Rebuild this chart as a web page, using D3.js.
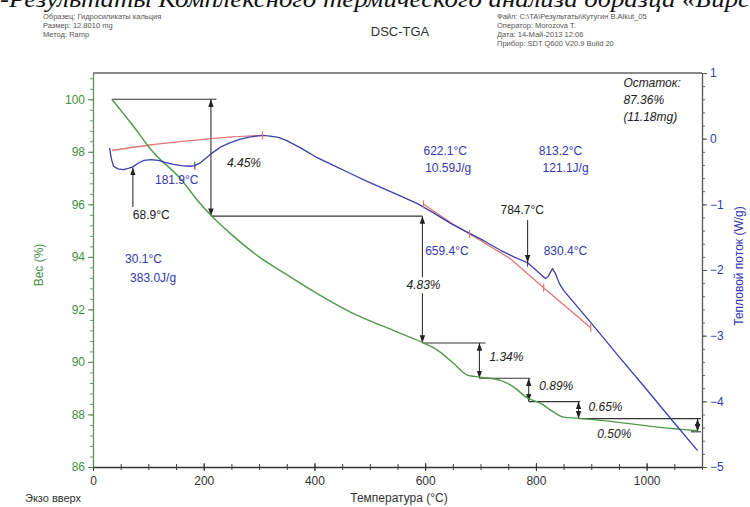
<!DOCTYPE html>
<html><head><meta charset="utf-8">
<script src="https://cdn.jsdelivr.net/npm/d3@7"></script>
<style>
html,body{margin:0;padding:0;background:#fff;}
svg{display:block;font-family:"Liberation Sans",Arial,sans-serif;}
</style></head>
<body><svg id="c" width="750" height="507"></svg>
<script>
// ---------- DATA ----------
const tgaTemp   = [34, 72, 108, 157, 193, 217, 253, 300, 344, 405, 465, 525, 560, 597, 622, 651, 676, 700, 736, 760, 785, 808, 832, 850, 875, 950, 1020, 1092];
const tgaWeight = [100, 99.0, 98.0, 97.0, 96.04, 95.5, 94.8, 94.0, 93.4, 92.6, 91.9, 91.35, 91.05, 90.72, 90.45, 89.95, 89.5, 89.42, 89.3, 89.04, 88.62, 88.43, 88.09, 87.9, 87.86, 87.7, 87.52, 87.38];

const dscTemp = [30, 33, 37, 45, 55, 65, 72, 82, 92, 105, 118, 130, 145, 160, 175, 184, 195, 205, 215, 230, 248, 265, 280, 295, 307, 320, 335, 350, 375, 405, 435, 465, 495, 525, 555, 586, 615, 646, 675, 705, 736, 760, 785, 800, 817, 822, 830, 835, 842, 850, 900, 950, 1000, 1050, 1092];
const dscFlow = [-0.14, -0.30, -0.42, -0.46, -0.47, -0.45, -0.43, -0.37, -0.33, -0.32, -0.33, -0.36, -0.39, -0.41, -0.42, -0.41, -0.36, -0.29, -0.22, -0.13, -0.06, -0.01, 0.02, 0.04, 0.05, 0.04, 0.02, -0.03, -0.14, -0.29, -0.41, -0.53, -0.65, -0.76, -0.87, -0.99, -1.13, -1.29, -1.42, -1.55, -1.70, -1.80, -1.89, -2.00, -2.13, -2.10, -1.98, -2.05, -2.20, -2.31, -2.81, -3.32, -3.82, -4.33, -4.75];

const base1Temp = [34, 100, 175, 240, 306];
const base1Flow = [-0.18, -0.10, -0.03, 0.02, 0.05];
const base2Temp = [597, 650, 700, 754, 814, 899];
const base2Flow = [-1.00, -1.30, -1.55, -1.83, -2.27, -2.88];

// weight-loss steps: level, line start/end temperature, arrow temperature
const stepLevel = [100, 95.55, 90.72, 89.38, 88.49, 87.84, 87.34];
const stepStart = [34, 213, 595, 698, 787, 877];
const stepEnd   = [223, 595, 709, 790, 880, 1098];
const stepArrow = [213, 595, 698, 787, 877, 1092];
const stepLabel = ["4.45%", "4.83%", "1.34%", "0.89%", "0.65%", "0.50%"];
const stepLabelT = [242, 597, 716, 806, 895, 911];
const stepLabelW = [97.6, 92.92, 90.18, 89.08, 88.28, 87.25];

const dscLabelText = ["181.9°C", "68.9°C", "30.1°C", "383.0J/g", "622.1°C", "10.59J/g", "659.4°C", "784.7°C", "830.4°C", "813.2°C", "121.1J/g"];
const dscLabelT    = [112, 72, 58, 67, 597, 600, 600, 736, 814, 805, 812];
const dscLabelHF   = [-0.63, -1.16, -1.83, -2.12, -0.19, -0.45, -1.70, -1.09, -1.71, -0.19, -0.45];
const dscLabelBlue = [true, false, true, true, true, true, true, false, true, true, true];

const residueText = ["Остаток:", "87.36%", "(11.18mg)"];
const residueHF   = [0.85, 0.59, 0.33];
const residueT    = 958;

const markerRedT  = [306, 597, 680, 814, 899];
const markerRedHF = [0.05, -1.00, -1.45, -2.27, -2.88];
const markerBlkT  = [184, 785];
const markerBlkHF = [-0.41, -1.89];

const xTicks = [0, 200, 400, 600, 800, 1000];
const wTicks = [86, 88, 90, 92, 94, 96, 98, 100];
const hfTicks = [-5, -4, -3, -2, -1, 0, 1];

const headerLeft  = ["Образец: Гидросиликаты кальция", "Размер: 12.8010 mg", "Метод: Ramp"];
const headerRight = ["Файл: C:\\TA\\Результаты\\Кутугин В.Alkut_05", "Оператор: Morozova T.", "Дата: 14-Май-2013 12:06", "Прибор: SDT Q600 V20.9 Build 20"];

// ---------- CHART ----------
const svg = d3.select("#c");
const L = 93, R = 702, T = 73, B = 467;
const x = d3.scaleLinear().domain([0, 1100]).range([L, R]);
const yW = d3.scaleLinear().domain([86, 101]).range([B, T]);
const yH = d3.scaleLinear().domain([-5, 1]).range([B, T]);

const green = "#4f9a4a", blue = "#3b3fae", red = "#e27575", txtBlue = "#3338b0";

// title (cut at top)
svg.append("text").attr("x", 0).attr("y", 7)
  .attr("font-family", "Liberation Serif, Times New Roman, serif").attr("font-style", "italic")
  .attr("font-size", 23).attr("fill", "#111")
  .attr("textLength", 750).attr("lengthAdjust", "spacingAndGlyphs")
  .text("-Результаты Комплексного термического анализа образца «Бирс");

svg.selectAll("text.hl").data(headerLeft).enter().append("text")
  .attr("x", 43).attr("y", (d, i) => 19 + i * 9).attr("font-size", 7.5).attr("fill", "#555").text(d => d);
svg.selectAll("text.hr").data(headerRight).enter().append("text")
  .attr("x", 497).attr("y", (d, i) => 19 + i * 9).attr("font-size", 7.5).attr("fill", "#555").text(d => d);
svg.append("text").attr("x", 400).attr("y", 36).attr("text-anchor", "middle")
  .attr("font-size", 13).attr("fill", "#333").text("DSC-TGA");

// top border
svg.append("line").attr("x1", L).attr("x2", R).attr("y1", T).attr("y2", T)
  .attr("stroke", "#888").attr("stroke-width", 2);

// axes
function styleAxis(g, col) {
  g.select(".domain").attr("stroke", col).attr("stroke-width", 1.3);
  g.selectAll(".tick line").attr("stroke", col);
  g.selectAll(".tick text").attr("font-size", 12).attr("font-family", "Liberation Sans, Arial, sans-serif");
}
const gxMinor = svg.append("g").attr("transform", `translate(0,${B})`)
  .call(d3.axisBottom(x).tickValues(d3.range(0, 1101, 50)).tickSize(3).tickFormat(""));
gxMinor.select(".domain").remove(); gxMinor.selectAll("line").attr("stroke", "#444").attr("y1", -3);
const gx = svg.append("g").attr("transform", `translate(0,${B})`)
  .call(d3.axisBottom(x).tickValues(xTicks).tickSize(4).tickSizeOuter(0).tickPadding(5).tickFormat(d3.format("d")));
styleAxis(gx, "#333"); gx.selectAll(".tick line").attr("y1", -4);
gx.selectAll(".tick text").attr("fill", "#333");

const gwMinor = svg.append("g").attr("transform", `translate(${L},0)`)
  .call(d3.axisLeft(yW).tickValues(d3.range(86, 100.9, 0.4)).tickSize(3).tickFormat(""));
gwMinor.select(".domain").remove(); gwMinor.selectAll("line").attr("stroke", "#6a9a6a");
const gw = svg.append("g").attr("transform", `translate(${L},0)`)
  .call(d3.axisLeft(yW).tickValues(wTicks).tickSize(5).tickSizeOuter(0).tickPadding(3));
styleAxis(gw, "#5c8f5c"); gw.selectAll(".tick text").attr("fill", "#3f8f3f");

const ghMinor = svg.append("g").attr("transform", `translate(${R},0)`)
  .call(d3.axisRight(yH).tickValues(d3.range(-5, 1.01, 0.2)).tickSize(3).tickFormat(""));
ghMinor.select(".domain").remove(); ghMinor.selectAll("line").attr("stroke", "#666");
const gh = svg.append("g").attr("transform", `translate(${R},0)`)
  .call(d3.axisRight(yH).tickValues(hfTicks).tickSize(5).tickSizeOuter(0).tickPadding(3).tickFormat(d3.format("d")));
styleAxis(gh, "#555"); gh.selectAll(".tick text").attr("fill", txtBlue);

// axis titles
svg.append("text").attr("transform", `translate(43,265) rotate(-90)`).attr("text-anchor", "middle")
  .attr("font-size", 12).attr("fill", "#3f8f3f").text("Вес (%)");
svg.append("text").attr("transform", `translate(743,266) rotate(-90)`).attr("text-anchor", "middle")
  .attr("font-size", 12).attr("fill", txtBlue).text("Тепловой поток (W/g)");
svg.append("text").attr("x", 399).attr("y", 502).attr("text-anchor", "middle")
  .attr("font-size", 12).attr("fill", "#333").text("Температура (°C)");
svg.append("text").attr("x", 25).attr("y", 502)
  .attr("font-size", 11).attr("fill", "#333").text("Экзо вверх");

// markers
const defs = svg.append("defs");
defs.append("marker").attr("id", "ah").attr("viewBox", "0 0 10 10").attr("refX", 10).attr("refY", 5)
  .attr("markerWidth", 7).attr("markerHeight", 7).attr("orient", "auto-start-reverse")
  .append("path").attr("d", "M0,1.5 L10,5 L0,8.5 Z").attr("fill", "#222");

// weight step construction lines
const steps = svg.append("g").attr("stroke", "#333").attr("stroke-width", 1.1).attr("fill", "none");
stepStart.forEach((s, i) => {
  steps.append("line").attr("x1", x(s)).attr("x2", x(stepEnd[i]))
    .attr("y1", yW(stepLevel[i])).attr("y2", yW(stepLevel[i]));
  steps.append("line").attr("x1", x(stepArrow[i])).attr("x2", x(stepArrow[i]))
    .attr("y1", yW(stepLevel[i])).attr("y2", yW(stepLevel[i + 1]))
    .attr("marker-start", "url(#ah)").attr("marker-end", "url(#ah)");
});
steps.append("line").attr("x1", x(1080)).attr("x2", x(1098))
  .attr("y1", yW(stepLevel[6])).attr("y2", yW(stepLevel[6]));

// curves
const lineW = d3.line().x(d => x(d[0])).y(d => yW(d[1])).curve(d3.curveMonotoneX);
const lineH = d3.line().x(d => x(d[0])).y(d => yH(d[1])).curve(d3.curveMonotoneX);
const lineHlin = d3.line().x(d => x(d[0])).y(d => yH(d[1]));

svg.append("path").datum(base1Temp.map((t, i) => [t, base1Flow[i]]))
  .attr("d", lineH).attr("fill", "none").attr("stroke", red).attr("stroke-width", 1.3);
svg.append("path").datum(base2Temp.map((t, i) => [t, base2Flow[i]]))
  .attr("d", lineHlin).attr("fill", "none").attr("stroke", red).attr("stroke-width", 1.3);

svg.append("path").datum(tgaTemp.map((t, i) => [t, tgaWeight[i]]))
  .attr("d", lineW).attr("fill", "none").attr("stroke", green).attr("stroke-width", 1.4);
svg.append("path").datum(dscTemp.map((t, i) => [t, dscFlow[i]]))
  .attr("d", lineHlin).attr("fill", "none").attr("stroke", blue).attr("stroke-width", 1.3)
  .attr("stroke-linejoin", "round");

markerRedT.forEach((t, i) => svg.append("line").attr("x1", x(t)).attr("x2", x(t))
  .attr("y1", yH(markerRedHF[i]) - 4).attr("y2", yH(markerRedHF[i]) + 4).attr("stroke", red).attr("stroke-width", 1.2));
markerBlkT.forEach((t, i) => svg.append("line").attr("x1", x(t)).attr("x2", x(t))
  .attr("y1", yH(markerBlkHF[i]) - 4).attr("y2", yH(markerBlkHF[i]) + 4).attr("stroke", "#333").attr("stroke-width", 1));

// pointer arrows for peaks
svg.append("line").attr("x1", x(72)).attr("x2", x(72)).attr("y1", yH(-1.04)).attr("y2", yH(-0.44))
  .attr("stroke", "#333").attr("stroke-width", 1.1).attr("marker-end", "url(#ah)");
svg.append("line").attr("x1", x(785)).attr("x2", x(785)).attr("y1", yH(-1.24)).attr("y2", yH(-1.89))
  .attr("stroke", "#333").attr("stroke-width", 1.1).attr("marker-end", "url(#ah)");

// step labels
stepLabel.forEach((s, i) => {
  const cx = x(stepLabelT[i]), cy = yW(stepLabelW[i]);
  if (i === 1) {
    svg.append("rect").attr("x", cx - 20).attr("y", cy - 8).attr("width", 40).attr("height", 16).attr("fill", "#fff");
  }
  svg.append("text").attr("x", cx).attr("y", cy).attr("dy", "0.35em")
    .attr("text-anchor", i === 1 ? "middle" : "start")
    .attr("font-size", 12).attr("font-style", "italic").attr("fill", "#222").text(s);
});

dscLabelText.forEach((s, i) => {
  svg.append("text").attr("x", x(dscLabelT[i])).attr("y", yH(dscLabelHF[i])).attr("dy", "0.35em")
    .attr("font-size", 12).attr("fill", dscLabelBlue[i] ? txtBlue : "#222").text(s);
});

residueText.forEach((s, i) => {
  svg.append("text").attr("x", x(residueT)).attr("y", yH(residueHF[i])).attr("dy", "0.35em")
    .attr("font-size", 12).attr("font-style", "italic").attr("fill", "#222").text(s);
});
</script></body></html>
